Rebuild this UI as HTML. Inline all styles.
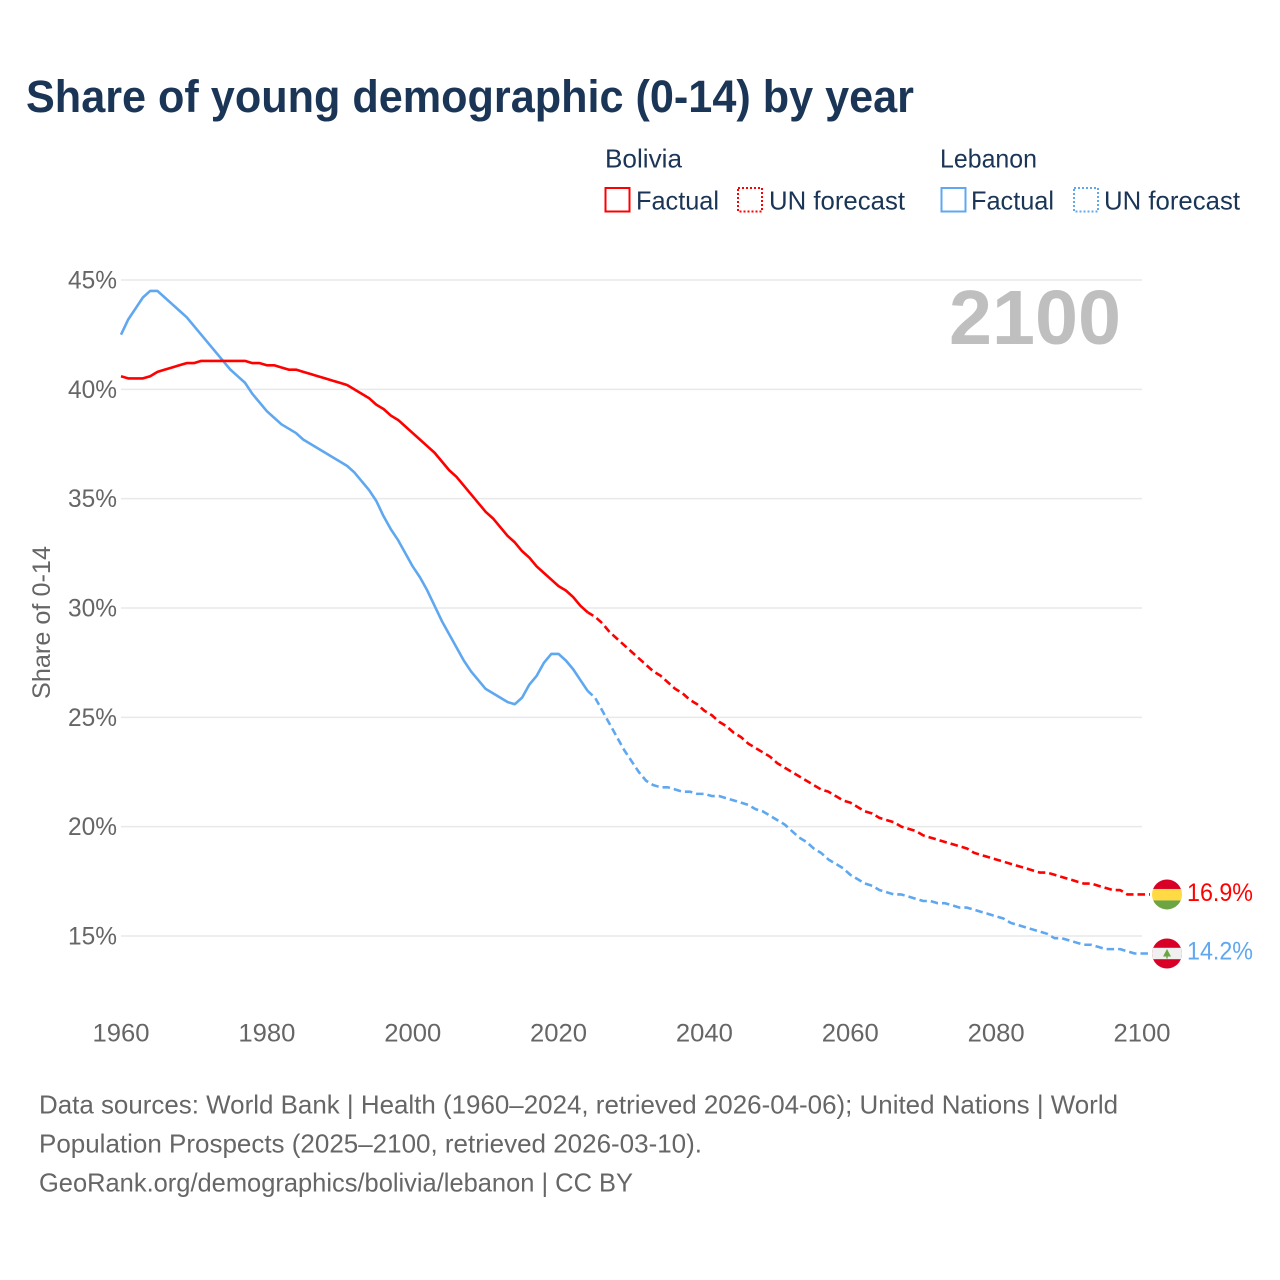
<!DOCTYPE html>
<html lang="en">
<head>
<meta charset="utf-8">
<title>Share of young demographic (0-14) by year</title>
<style>
html,body{margin:0;padding:0;background:#fff;width:1280px;height:1280px;overflow:hidden}
svg{display:block}
text{font-family:"Liberation Sans",sans-serif}
</style>
</head>
<body>
<svg id="chart" xmlns="http://www.w3.org/2000/svg" width="1280" height="1280" viewBox="0 0 1280 1280">
  <rect width="1280" height="1280" fill="#ffffff"/>
  <text x="26" y="112" font-size="45" font-weight="700" fill="#1a3556" textLength="888" lengthAdjust="spacingAndGlyphs">Share of young demographic (0-14) by year</text>

  <g font-size="26" fill="#1a3556">
    <text x="605" y="167.5" textLength="77" lengthAdjust="spacingAndGlyphs">Bolivia</text>
    <text x="940" y="167.5" textLength="97" lengthAdjust="spacingAndGlyphs">Lebanon</text>
    <rect x="605.5" y="188" width="24" height="23.5" fill="none" stroke="#ff0000" stroke-width="2"/>
    <text x="636" y="209.5" textLength="83" lengthAdjust="spacingAndGlyphs">Factual</text>
    <rect x="738" y="188" width="24" height="23.5" fill="none" stroke="#ff0000" stroke-width="2" stroke-dasharray="2 2"/>
    <text x="769" y="209.5" textLength="136" lengthAdjust="spacingAndGlyphs">UN forecast</text>
    <rect x="941.5" y="188" width="24" height="23.5" fill="none" stroke="#5fa8f0" stroke-width="2"/>
    <text x="971" y="209.5" textLength="83" lengthAdjust="spacingAndGlyphs">Factual</text>
    <rect x="1074" y="188" width="24" height="23.5" fill="none" stroke="#5fa8f0" stroke-width="2" stroke-dasharray="2 2"/>
    <text x="1104" y="209.5" textLength="136" lengthAdjust="spacingAndGlyphs">UN forecast</text>
  </g>

  <g id="grid"></g>
  <g id="yticks"></g>
  <g id="xticks"></g>

  <text transform="translate(50,699) rotate(-90)" font-size="25" fill="#666666" textLength="153" lengthAdjust="spacingAndGlyphs">Share of 0-14</text>
  <text x="949" y="344" font-size="77" font-weight="700" fill="#bfbfbf" textLength="172" lengthAdjust="spacingAndGlyphs">2100</text>

  <g id="series"></g>
  <g id="ends"></g>

  <g font-size="26" fill="#666666">
    <text x="39" y="1113.5" textLength="1079" lengthAdjust="spacingAndGlyphs">Data sources: World Bank | Health (1960–2024, retrieved 2026-04-06); United Nations | World</text>
    <text x="39" y="1152.5" textLength="663" lengthAdjust="spacingAndGlyphs">Population Prospects (2025–2100, retrieved 2026-03-10).</text>
    <text x="39" y="1191.5" textLength="594" lengthAdjust="spacingAndGlyphs">GeoRank.org/demographics/bolivia/lebanon | CC BY</text>
  </g>
</svg>
<script>
const yTickValues = [45, 40, 35, 30, 25, 20, 15];
const xTickYears = [1960, 1980, 2000, 2020, 2040, 2060, 2080, 2100];
const factualStartYear = 1960;
const forecastStartYear = 2024;

const boliviaFactual = [40.6,40.5,40.5,40.5,40.6,40.8,40.9,41.0,41.1,41.2,41.2,41.3,41.3,41.3,41.3,41.3,41.3,41.3,41.2,41.2,41.1,41.1,41.0,40.9,40.9,40.8,40.7,40.6,40.5,40.4,40.3,40.2,40.0,39.8,39.6,39.3,39.1,38.8,38.6,38.3,38.0,37.7,37.4,37.1,36.7,36.3,36.0,35.6,35.2,34.8,34.4,34.1,33.7,33.3,33.0,32.6,32.3,31.9,31.6,31.3,31.0,30.8,30.5,30.1,29.8];
const boliviaForecast = [29.8,29.6,29.3,28.9,28.6,28.3,28.0,27.7,27.4,27.1,26.9,26.6,26.3,26.1,25.8,25.6,25.3,25.1,24.8,24.6,24.3,24.1,23.8,23.6,23.4,23.2,22.9,22.7,22.5,22.3,22.1,21.9,21.7,21.6,21.4,21.2,21.1,20.9,20.7,20.6,20.4,20.3,20.2,20.0,19.9,19.8,19.6,19.5,19.4,19.3,19.2,19.1,19.0,18.8,18.7,18.6,18.5,18.4,18.3,18.2,18.1,18.0,17.9,17.9,17.8,17.7,17.6,17.5,17.4,17.4,17.3,17.2,17.1,17.1,16.9,16.9,16.9];
const lebanonFactual = [42.5,43.2,43.7,44.2,44.5,44.5,44.2,43.9,43.6,43.3,42.9,42.5,42.1,41.7,41.3,40.9,40.6,40.3,39.8,39.4,39.0,38.7,38.4,38.2,38.0,37.7,37.5,37.3,37.1,36.9,36.7,36.5,36.2,35.8,35.4,34.9,34.2,33.6,33.1,32.5,31.9,31.4,30.8,30.1,29.4,28.8,28.2,27.6,27.1,26.7,26.3,26.1,25.9,25.7,25.6,25.9,26.5,26.9,27.5,27.9,27.9,27.6,27.2,26.7,26.2];
const lebanonForecast = [26.2,25.9,25.3,24.7,24.1,23.5,23.0,22.5,22.1,21.9,21.8,21.8,21.7,21.6,21.6,21.5,21.5,21.4,21.4,21.3,21.2,21.1,21.0,20.8,20.7,20.5,20.3,20.1,19.8,19.5,19.3,19.0,18.8,18.5,18.3,18.1,17.8,17.6,17.4,17.3,17.1,17.0,16.9,16.9,16.8,16.7,16.6,16.6,16.5,16.5,16.4,16.3,16.3,16.2,16.1,16.0,15.9,15.8,15.6,15.5,15.4,15.3,15.2,15.1,14.9,14.9,14.8,14.7,14.6,14.6,14.5,14.4,14.4,14.4,14.3,14.2,14.2];

const NS = 'http://www.w3.org/2000/svg';
function xScale(year) { return 121 + (year - 1960) * (1142 - 121) / 140; }
function yScale(v) { return 280 + (45 - v) * (936 - 280) / 30; }
function make(tag, attrs, parent) {
  const el = document.createElementNS(NS, tag);
  for (const k in attrs) el.setAttribute(k, attrs[k]);
  parent.appendChild(el);
  return el;
}
function pathFrom(values, startYear) {
  return values.map((v, i) => (i ? 'L' : 'M') + xScale(startYear + i).toFixed(2) + ' ' + yScale(v).toFixed(2)).join(' ');
}

const grid = document.getElementById('grid');
const yticks = document.getElementById('yticks');
yTickValues.forEach(function (v) {
  const line = make('line', { x1: 121, x2: 1142, y1: yScale(v), y2: yScale(v), stroke: '#e9e9e9', 'stroke-width': 1.5 }, grid);
  
  
  const t = make('text', { x: 68, y: yScale(v) + 8.5, 'font-size': 25, fill: '#666666', textLength: 49, lengthAdjust: 'spacingAndGlyphs' }, yticks);
  t.textContent = v + '%';
  
  
});

const xticks = document.getElementById('xticks');
xTickYears.forEach(function (yr) {
  const t = make('text', { x: xScale(yr) - 28.5, y: 1041.5, 'font-size': 25, fill: '#666666', textLength: 57, lengthAdjust: 'spacingAndGlyphs' }, xticks);
  t.textContent = String(yr);
  
  
});

const seriesGroup = document.getElementById('series');
const flagX = 1167;
function drawLine(values, startYear, color, dashed, name) {
  let d = pathFrom(values, startYear);
  if (dashed) d += ' L' + (flagX - 17) + ' ' + yScale(values[values.length - 1]).toFixed(2);
  const attrs = { d: d, fill: 'none', stroke: color, 'stroke-width': 2.6, 'stroke-linejoin': 'round' };
  if (dashed) { attrs['stroke-dasharray'] = '7.5 4'; attrs['stroke-dashoffset'] = '1'; }
  const p = make('path', attrs, seriesGroup);
  
  
}
drawLine(lebanonFactual, factualStartYear, '#5fa8f0', false, 'line-lebanon-factual');
drawLine(lebanonForecast, forecastStartYear, '#5fa8f0', true, 'line-lebanon-forecast');
drawLine(boliviaFactual, factualStartYear, '#ff0000', false, 'line-bolivia-factual');
drawLine(boliviaForecast, forecastStartYear, '#ff0000', true, 'line-bolivia-forecast');

const ends = document.getElementById('ends');
const defs = make('defs', {}, ends);

const boliviaEnd = boliviaForecast[boliviaForecast.length - 1];
const lebanonEnd = lebanonForecast[lebanonForecast.length - 1];
const by = yScale(boliviaEnd);
const ly = yScale(lebanonEnd);

const clipB = make('clipPath', { id: 'clip-bolivia' }, defs);
make('circle', { cx: flagX, cy: by, r: 15 }, clipB);
const clipL = make('clipPath', { id: 'clip-lebanon' }, defs);
make('circle', { cx: flagX, cy: ly, r: 15 }, clipL);

const flagB = make('g', { 'clip-path': 'url(#clip-bolivia)' }, ends);


make('rect', { x: flagX - 15, y: by - 15, width: 30, height: 10, fill: '#d80027' }, flagB);
make('rect', { x: flagX - 15, y: by - 5.5, width: 30, height: 11.5, fill: '#ffda44' }, flagB);
make('rect', { x: flagX - 15, y: by + 6, width: 30, height: 10, fill: '#6da544' }, flagB);

const flagL = make('g', { 'clip-path': 'url(#clip-lebanon)' }, ends);


make('rect', { x: flagX - 15, y: ly - 15, width: 30, height: 30, fill: '#d80027' }, flagL);
make('rect', { x: flagX - 15, y: ly - 5.7, width: 30, height: 11.4, fill: '#f0f0f0' }, flagL);
make('path', { d: 'M' + flagX + ' ' + (ly - 4.5) + ' l-4 7.5 h3.3 v2 h1.4 v-2 h3.3 z', fill: '#6da544' }, flagL);

const labelB = make('text', { x: 1187, y: by + 6.5, 'font-size': 25, fill: '#ff0000', textLength: 66, lengthAdjust: 'spacingAndGlyphs' }, ends);
labelB.textContent = boliviaEnd.toFixed(1) + '%';



const labelL = make('text', { x: 1187, y: ly + 6, 'font-size': 25, fill: '#5fa8f0', textLength: 66, lengthAdjust: 'spacingAndGlyphs' }, ends);
labelL.textContent = lebanonEnd.toFixed(1) + '%';


</script>
</body>
</html>
